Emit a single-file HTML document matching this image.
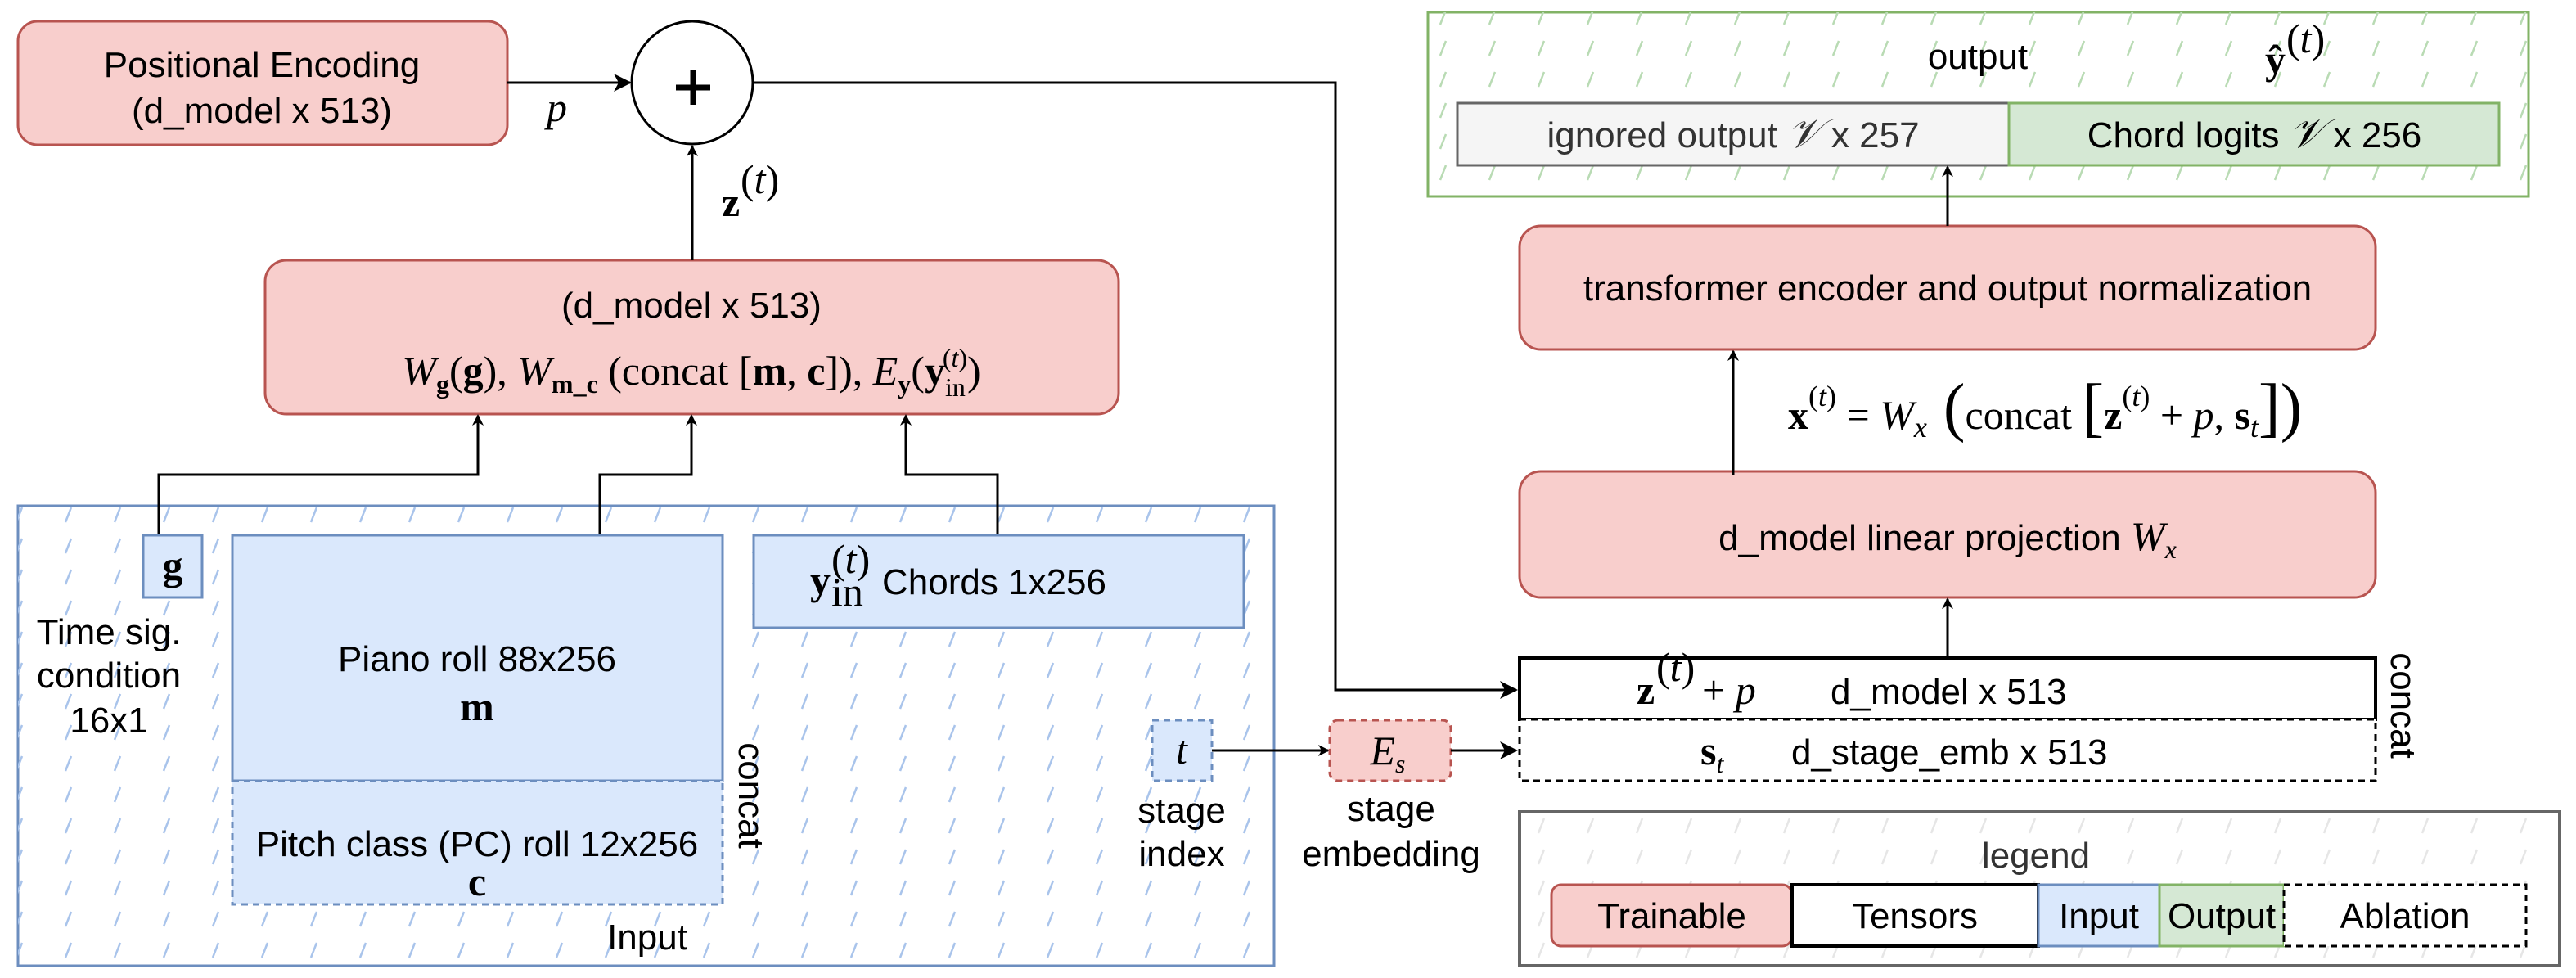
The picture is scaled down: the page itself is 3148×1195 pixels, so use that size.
<!DOCTYPE html>
<html><head><meta charset="utf-8"><style>
html,body{margin:0;padding:0;background:#fff;}
svg{display:block;}
text{font-family:"Liberation Sans",sans-serif;font-size:44px;fill:#000;}
.m{font-family:"Liberation Serif",serif;font-size:50px;}
.i{font-style:italic;}
.b{font-weight:bold;}
</style></head><body>
<svg width="3148" height="1195" viewBox="0 0 3148 1195" xmlns="http://www.w3.org/2000/svg">
<defs>
<pattern id="hb" width="60" height="38" patternUnits="userSpaceOnUse"><line x1="20" y1="30" x2="27" y2="12" stroke="#a9c4eb" stroke-width="2.5"/></pattern>
<pattern id="hg" width="60" height="38" patternUnits="userSpaceOnUse"><line x1="20" y1="30" x2="27" y2="12" stroke="#b9dbb4" stroke-width="2.5"/></pattern>
<pattern id="hy" width="60" height="38" patternUnits="userSpaceOnUse"><line x1="20" y1="30" x2="27" y2="12" stroke="#e6e6e6" stroke-width="2.5"/></pattern>
<marker id="a" markerWidth="14" markerHeight="14" refX="12" refY="7" orient="auto" markerUnits="userSpaceOnUse"><path d="M0,0 L14,7 L0,14 L4,7 Z" fill="#000"/></marker>
<marker id="A" markerWidth="22" markerHeight="22" refX="20" refY="11" orient="auto" markerUnits="userSpaceOnUse"><path d="M0,0 L22,11 L0,22 L6,11 Z" fill="#000"/></marker>
</defs>

<!-- Input container -->
<rect x="22" y="618" width="1535" height="562" fill="#fff" stroke="#6c8ebf" stroke-width="3"/>
<rect x="22" y="618" width="1535" height="562" fill="url(#hb)"/>
<text x="791" y="1160" text-anchor="middle">Input</text>

<!-- Output container -->
<rect x="1745" y="15" width="1345" height="225" fill="#fff" stroke="#82b366" stroke-width="3"/>
<rect x="1745" y="15" width="1345" height="225" fill="url(#hg)"/>
<text x="2417" y="84" text-anchor="middle">output</text>
<text x="2768" y="90" class="m b">ŷ</text><text x="2794" y="64" class="m" font-size="32">(<tspan class="i">t</tspan>)</text>
<rect x="1781" y="126" width="674" height="76" fill="#f5f5f5" stroke="#666" stroke-width="3"/>
<rect x="2455" y="126" width="599" height="76" fill="#d5e8d4" stroke="#82b366" stroke-width="3"/>
<text x="2118" y="180" text-anchor="middle" style="fill:#333">ignored output <tspan class="m i">𝒱</tspan> x 257</text>
<text x="2755" y="180" text-anchor="middle">Chord logits  <tspan class="m i">𝒱</tspan> x 256</text>

<!-- Positional encoding -->
<rect x="22" y="26" width="598" height="151" rx="24" fill="#f8cecc" stroke="#b85450" stroke-width="3"/>
<text x="320" y="94" text-anchor="middle">Positional Encoding</text>
<text x="320" y="150" text-anchor="middle">(d_model x 513)</text>

<!-- plus circle -->
<ellipse cx="846" cy="101" rx="74" ry="75" fill="#fff" stroke="#000" stroke-width="3"/>
<line x1="826" y1="107" x2="868" y2="107" stroke="#000" stroke-width="7"/>
<line x1="847" y1="86" x2="847" y2="128" stroke="#000" stroke-width="7"/>
<line x1="620" y1="101" x2="770" y2="101" stroke="#000" stroke-width="3" marker-end="url(#A)"/>
<text x="668" y="148" class="m i">p</text>

<!-- circle to concat -->
<polyline points="920,101 1632,101 1632,843 1853,843" fill="none" stroke="#000" stroke-width="3" marker-end="url(#A)"/>

<!-- middle box -->
<rect x="324" y="318" width="1043" height="188" rx="26" fill="#f8cecc" stroke="#b85450" stroke-width="3"/>
<text x="845" y="388" text-anchor="middle">(d_model x 513)</text>
<text x="845" y="470" text-anchor="middle" class="m"><tspan class="i">W</tspan><tspan font-size="32" dy="10" class="b">g</tspan><tspan dy="-10">(</tspan><tspan class="b">g</tspan>), <tspan class="i">W</tspan><tspan font-size="32" dy="10" class="b">m_c</tspan><tspan dy="-10"> (concat [</tspan><tspan class="b">m</tspan>, <tspan class="b">c</tspan>]), <tspan class="i">E</tspan><tspan font-size="32" dy="10" class="b">y</tspan><tspan dy="-10">(</tspan><tspan class="b">y</tspan><tspan font-size="32" dy="14">in</tspan><tspan font-size="32" dx="-28" dy="-36">(<tspan class="i">t</tspan>)</tspan><tspan dy="22">)</tspan></text>

<!-- z(t) arrow -->
<line x1="846" y1="318" x2="846" y2="179" stroke="#000" stroke-width="3" marker-end="url(#a)"/>
<text x="882" y="264" class="m b">z</text><text x="905" y="236" class="m" font-size="32">(<tspan class="i">t</tspan>)</text>

<!-- input arrows -->
<polyline points="194,654 194,580 584,580 584,508" fill="none" stroke="#000" stroke-width="3" marker-end="url(#a)"/>
<polyline points="733,654 733,580 845,580 845,508" fill="none" stroke="#000" stroke-width="3" marker-end="url(#a)"/>
<polyline points="1219,654 1219,580 1107,580 1107,508" fill="none" stroke="#000" stroke-width="3" marker-end="url(#a)"/>

<!-- g -->
<rect x="175" y="654" width="72" height="76" fill="#dae8fc" stroke="#6c8ebf" stroke-width="3"/>
<text x="211" y="708" text-anchor="middle" class="m b">g</text>
<text x="133" y="787" text-anchor="middle">Time sig.</text>
<text x="133" y="840" text-anchor="middle">condition</text>
<text x="133" y="895" text-anchor="middle">16x1</text>

<!-- piano -->
<rect x="284" y="654" width="599" height="300" fill="#dae8fc" stroke="#6c8ebf" stroke-width="3"/>
<text x="583" y="820" text-anchor="middle">Piano roll 88x256</text>
<text x="583" y="880" text-anchor="middle" class="m b">m</text>
<rect x="284" y="954" width="599" height="151" fill="#dae8fc" stroke="#6c8ebf" stroke-width="3" stroke-dasharray="8,6"/>
<text x="583" y="1046" text-anchor="middle">Pitch class (PC) roll 12x256</text>
<text x="583" y="1094" text-anchor="middle" class="m b">c</text>
<text transform="translate(903,972) rotate(90)" text-anchor="middle">concat</text>

<!-- chords -->
<rect x="921" y="654" width="599" height="113" fill="#dae8fc" stroke="#6c8ebf" stroke-width="3"/>
<text x="990" y="726" class="m b">y</text><text x="1016" y="740" class="m" font-size="32">in</text><text x="1016" y="700" class="m" font-size="32">(<tspan class="i">t</tspan>)</text>
<text x="1078" y="726">Chords 1x256</text>

<!-- t -->
<rect x="1408" y="880" width="73" height="74" fill="#dae8fc" stroke="#6c8ebf" stroke-width="3" stroke-dasharray="8,6"/>
<text x="1444" y="933" text-anchor="middle" class="m i">t</text>
<text x="1444" y="1005" text-anchor="middle">stage</text>
<text x="1444" y="1058" text-anchor="middle">index</text>
<line x1="1481" y1="917" x2="1623" y2="917" stroke="#000" stroke-width="3" marker-end="url(#a)"/>

<!-- Es -->
<rect x="1625" y="880" width="148" height="74" rx="10" fill="#f8cecc" stroke="#b85450" stroke-width="3" stroke-dasharray="8,6"/>
<text x="1696" y="934" text-anchor="middle" class="m i">E<tspan font-size="32" dy="10">s</tspan></text>
<text x="1700" y="1003" text-anchor="middle">stage</text>
<text x="1700" y="1058" text-anchor="middle">embedding</text>
<line x1="1773" y1="917" x2="1853" y2="917" stroke="#000" stroke-width="3" marker-end="url(#A)"/>

<!-- concat boxes -->
<rect x="1857" y="804" width="1046" height="75" fill="#fff" stroke="#000" stroke-width="4"/>
<text x="2000" y="860" class="m b">z</text><text x="2024" y="832" class="m" font-size="32">(<tspan class="i">t</tspan>)</text><text x="2080" y="860" class="m">+ <tspan class="i">p</tspan></text>
<text x="2237" y="860">d_model x 513</text>
<rect x="1857" y="879" width="1046" height="75" fill="#fff" stroke="#000" stroke-width="3" stroke-dasharray="8,6"/>
<text x="2078" y="934" class="m b">s<tspan class="i" font-weight="normal" font-size="32" dy="10">t</tspan></text>
<text x="2189" y="934">d_stage_emb x 513</text>
<text transform="translate(2922,862) rotate(90)" text-anchor="middle">concat</text>

<!-- linear projection -->
<rect x="1857" y="576" width="1046" height="154" rx="26" fill="#f8cecc" stroke="#b85450" stroke-width="3"/>
<text x="2380" y="672" text-anchor="middle">d_model linear projection <tspan class="m i">W<tspan font-size="32" dy="10">x</tspan></tspan></text>
<line x1="2380" y1="804" x2="2380" y2="732" stroke="#000" stroke-width="3" marker-end="url(#a)"/>

<!-- formula -->
<text x="2185" y="524" class="m" font-size="58"><tspan class="b">x</tspan><tspan font-size="36" dy="-28">(<tspan class="i">t</tspan>)</tspan><tspan dy="28"> = </tspan><tspan class="i">W</tspan><tspan class="i" font-size="36" dy="10">x</tspan><tspan dy="-10" font-size="80"> (</tspan><tspan>concat </tspan><tspan font-size="80">[</tspan><tspan class="b">z</tspan><tspan font-size="36" dy="-28">(<tspan class="i">t</tspan>)</tspan><tspan dy="28"> + </tspan><tspan class="i">p</tspan>, <tspan class="b">s</tspan><tspan class="i" font-size="36" dy="10">t</tspan><tspan dy="-10" font-size="80">])</tspan></text>
<line x1="2118" y1="580" x2="2118" y2="429" stroke="#000" stroke-width="3" marker-end="url(#a)"/>

<!-- transformer -->
<rect x="1857" y="276" width="1046" height="151" rx="26" fill="#f8cecc" stroke="#b85450" stroke-width="3"/>
<text x="2380" y="367" text-anchor="middle">transformer encoder and output normalization</text>
<line x1="2380" y1="276" x2="2380" y2="204" stroke="#000" stroke-width="3" marker-end="url(#a)"/>

<!-- legend -->
<rect x="1857" y="992" width="1271" height="188" fill="#fff" stroke="#666" stroke-width="4"/>
<rect x="1857" y="992" width="1271" height="188" fill="url(#hy)"/>
<text x="2488" y="1060" text-anchor="middle" style="fill:#333">legend</text>
<rect x="1896" y="1081" width="294" height="75" rx="12" fill="#f8cecc" stroke="#b85450" stroke-width="3"/>
<rect x="2190" y="1081" width="301" height="75" fill="#fff" stroke="#000" stroke-width="4"/>
<rect x="2491" y="1081" width="148" height="75" fill="#dae8fc" stroke="#6c8ebf" stroke-width="3"/>
<rect x="2639" y="1081" width="152" height="75" fill="#d5e8d4" stroke="#82b366" stroke-width="3"/>
<rect x="2791" y="1081" width="296" height="75" fill="#fff" stroke="#000" stroke-width="3" stroke-dasharray="8,6"/>
<text x="2043" y="1134" text-anchor="middle">Trainable</text>
<text x="2340" y="1134" text-anchor="middle">Tensors</text>
<text x="2565" y="1134" text-anchor="middle">Input</text>
<text x="2715" y="1134" text-anchor="middle">Output</text>
<text x="2939" y="1134" text-anchor="middle">Ablation</text>
</svg>
</body></html>
